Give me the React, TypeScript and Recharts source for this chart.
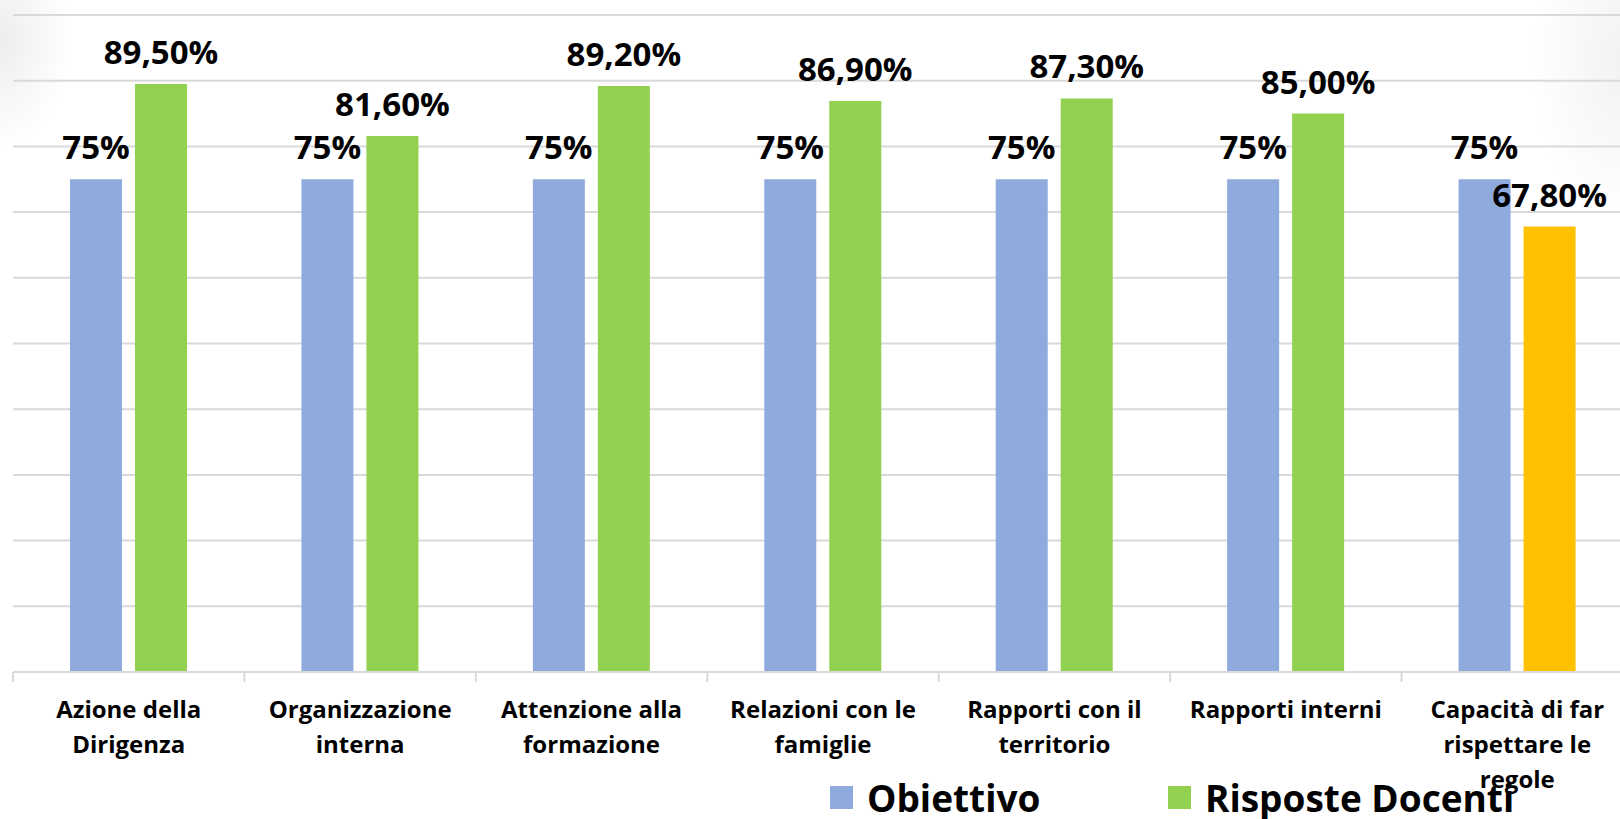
import { Bar, BarChart, CartesianGrid, Cell, LabelList, XAxis, YAxis } from "recharts";

// categories (line breaks as in the original slide)
const categories = [
  "Azione della\nDirigenza",
  "Organizzazione\ninterna",
  "Attenzione alla\nformazione",
  "Relazioni con le\nfamiglie",
  "Rapporti con il\nterritorio",
  "Rapporti interni",
  "Capacità di far\nrispettare le\nregole"
];

const obiettivo = [75, 75, 75, 75, 75, 75, 75];
const risposteDocenti = [89.5, 81.6, 89.2, 86.9, 87.3, 85.0, 67.8];

const yTicks = [0, 10, 20, 30, 40, 50, 60, 70, 80, 90, 100];
const seriesNames = ["Obiettivo", "Risposte Docenti"];

const BLUE = "#8FAADC";
const GREEN = "#92D050";
const ORANGE = "#FFC000";
const GRID = "#d9d9d9";
const FONT = "'Open Sans', 'Noto Sans', sans-serif";

const CHART_W = 1640;
const MARGIN = { top: 15, right: 7, left: 13, bottom: 0 };
const BAND = (CHART_W - MARGIN.left - MARGIN.right) / categories.length;

const data = categories.map((name, i) => ({
  name,
  obiettivo: obiettivo[i],
  risposte: risposteDocenti[i]
}));

function CategoryTick(props: any) {
  const { x, y, payload } = props;
  const lines = String(payload.value).split("\n");
  return (
    <g>
      <line
        x1={x - BAND / 2}
        x2={x - BAND / 2}
        y1={y}
        y2={y + 10}
        stroke={GRID}
        strokeWidth={2}
      />
      <text
        x={x}
        y={y + 46}
        textAnchor="middle"
        fontFamily={FONT}
        fontWeight={700}
        fontSize={24}
        fill="#000">
        {lines.map((l, i) => (
          <tspan key={i} x={x} dy={i === 0 ? 0 : 35}>
            {l}
          </tspan>
        ))}
      </text>
    </g>
  );
}

const labelStyle = {
  fontFamily: FONT,
  fontWeight: 700,
  fontSize: 33,
  fill: "#000"
};

export default function App() {
  return (
    <div
      style={{
        position: "absolute",
        left: 0,
        top: 0,
        width: 1620,
        height: 819,
        overflow: "hidden",
        background:
          "radial-gradient(ellipse 70px 110px at 0px 40px, rgba(0,0,0,0.07), rgba(0,0,0,0) 100%), radial-gradient(ellipse 90px 160px at 1620px 60px, rgba(0,0,0,0.05), rgba(0,0,0,0) 100%), #fff"
      }}>
      <BarChart
        width={CHART_W}
        height={819}
        data={data}
        margin={MARGIN}
        barSize={52}
        barGap={13}>
        <CartesianGrid vertical={false} stroke={GRID} strokeWidth={2} />
        <YAxis hide domain={[0, 100]} ticks={yTicks} />
        <XAxis
          dataKey="name"
          interval={0}
          height={147}
          tickLine={false}
          tickSize={0}
          tickMargin={0}
          axisLine={{ stroke: GRID, strokeWidth: 2 }}
          tick={<CategoryTick />}
        />
        <Bar dataKey="obiettivo" name={seriesNames[0]} fill={BLUE} isAnimationActive={false}>
          <LabelList
            dataKey="obiettivo"
            position="top"
            offset={20}
            formatter={(v: any) => `${v}%`}
            style={labelStyle}
          />
        </Bar>
        <Bar dataKey="risposte" name={seriesNames[1]} fill={GREEN} isAnimationActive={false}>
          {data.map((d, i) => (
            <Cell key={i} fill={d.risposte < d.obiettivo ? ORANGE : GREEN} />
          ))}
          <LabelList
            dataKey="risposte"
            position="top"
            offset={20}
            formatter={(v: any) => `${Number(v).toFixed(2).replace(".", ",")}%`}
            style={labelStyle}
          />
        </Bar>
      </BarChart>
      <div
        style={{
          position: "absolute",
          top: 779,
          left: 830,
          display: "flex",
          alignItems: "center",
          fontFamily: FONT,
          fontWeight: 700,
          fontSize: 37,
          lineHeight: 1,
          color: "#000",
          whiteSpace: "nowrap"
        }}>
        {seriesNames.map((n, i) => (
          <div
            key={n}
            style={{ display: "flex", alignItems: "center", width: i === 0 ? 338 : "auto" }}>
            <span
              style={{
                display: "inline-block",
                width: 23,
                height: 23,
                background: i === 0 ? BLUE : GREEN,
                marginRight: 14
              }}
            />
            <span>{n}</span>
          </div>
        ))}
      </div>
    </div>
  );
}
